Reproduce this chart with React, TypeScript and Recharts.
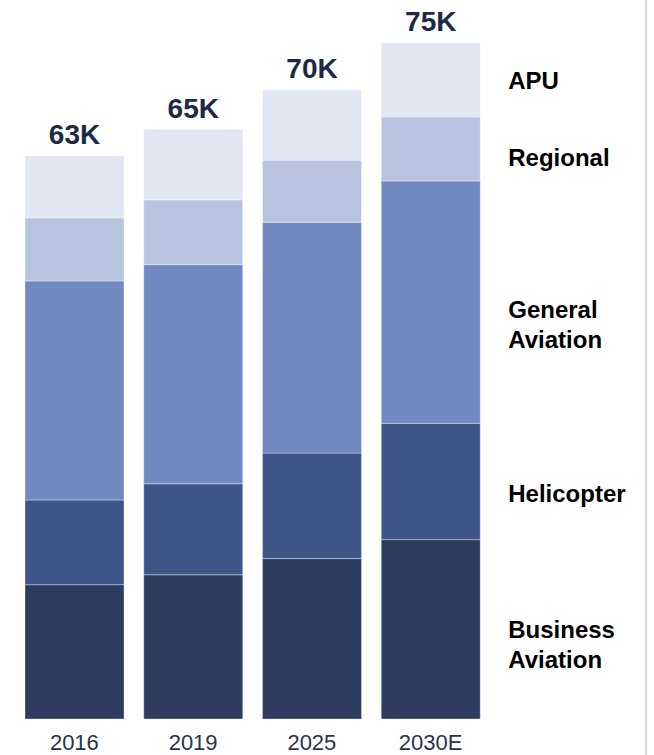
import { Bar, BarChart, LabelList, XAxis, YAxis } from "recharts";

const years = ["2016", "2019", "2025", "2030E"];
const businessAviation = [14.9, 16.0, 17.8, 19.9];
const helicopter = [9.4, 10.1, 11.7, 12.9];
const generalAviation = [24.3, 24.3, 25.6, 26.9];
const regional = [7.0, 7.2, 6.9, 7.1];
const apu = [6.9, 7.8, 7.8, 8.2];
const totalLabels = ["63K", "65K", "70K", "75K"];

const FONT = "'Liberation Sans', Arial, sans-serif";

// nudge = small vertical shift of the side label from the segment centre
const series = [
  { key: "business", lines: ["Business", "Aviation"], color: "#2d3c5f", nudge: 15 },
  { key: "helicopter", lines: ["Helicopter"], color: "#3e5688", nudge: 12 },
  { key: "general", lines: ["General", "Aviation"], color: "#7189c1", nudge: 22 },
  { key: "regional", lines: ["Regional"], color: "#b8c4df", nudge: 8 },
  { key: "apu", lines: ["APU"], color: "#e1e6f2", nudge: 0 },
];

const data = years.map((year, i) => ({
  year,
  business: businessAviation[i],
  helicopter: helicopter[i],
  general: generalAviation[i],
  regional: regional[i],
  apu: apu[i],
  total: totalLabels[i],
}));

// name of each segment, written to the right of the last bar
function sideLabel(lines: string[], nudge: number) {
  return (props: any) => {
    const { x, y, width, height, index } = props;
    if (index !== years.length - 1) return null;
    const fs = 24;
    const lh = 30;
    const cy = Number(y) + Number(height) / 2 + nudge;
    const first = cy - ((lines.length - 1) * lh) / 2 + 0.36 * fs;
    const tx = Number(x) + Number(width) + 28;
    return (
      <text x={tx} y={first} fontSize={fs} fontWeight="bold" fill="#000" fontFamily={FONT}>
        {lines.map((l, k) => (
          <tspan key={k} x={tx} dy={k === 0 ? 0 : lh}>
            {l}
          </tspan>
        ))}
      </text>
    );
  };
}

function totalLabel(props: any) {
  const { x, y, width, value } = props;
  return (
    <text
      x={Number(x) + Number(width) / 2}
      y={Number(y) - 12}
      textAnchor="middle"
      fontSize={28}
      fontWeight="bold"
      fill="#1e2a45"
      fontFamily={FONT}
    >
      {value}
    </text>
  );
}

export default function App() {
  return (
    <div style={{ position: "absolute", left: 0, top: 0, width: 654, height: 755, background: "#fff" }}>
      <BarChart
        width={654}
        height={755}
        data={data}
        margin={{ top: 43, right: 164, left: 15, bottom: 0 }}
        barCategoryGap={10}
      >
        <XAxis
          dataKey="year"
          height={36}
          axisLine={false}
          tickLine={false}
          tickMargin={9}
          tick={{ fill: "#2b3348", fontSize: 22, fontFamily: FONT }}
        />
        <YAxis hide domain={[0, 75]} />
        {series.map((s) => (
          <Bar
            key={s.key}
            dataKey={s.key}
            stackId="a"
            fill={s.color}
            stroke="#ffffff"
            strokeOpacity={0.35}
            strokeWidth={1}
            isAnimationActive={false}
          >
            <LabelList dataKey={s.key} content={sideLabel(s.lines, s.nudge)} />
            {s.key === "apu" && <LabelList dataKey="total" content={totalLabel} />}
          </Bar>
        ))}
      </BarChart>
      <div
        style={{ position: "absolute", left: 645, top: 0, width: 2, height: 755, background: "#d6d6d6" }}
      />
    </div>
  );
}
